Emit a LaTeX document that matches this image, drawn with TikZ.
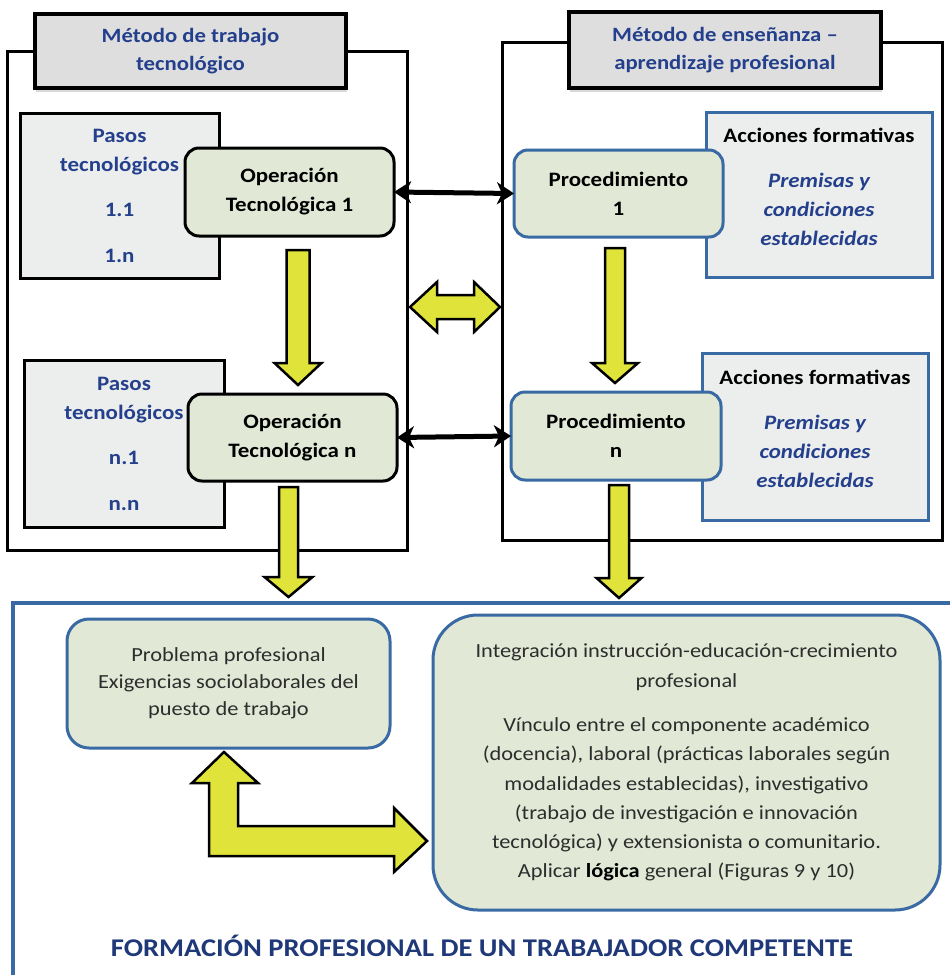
\documentclass[tikz,border=0pt]{standalone}
\usepackage{fontspec}
\setmainfont{Carlito}[FakeStretch=1.12]
\usetikzlibrary{arrows.meta,shadows,calc}
\definecolor{hblue}{RGB}{36,64,140}
\definecolor{tblue}{RGB}{31,56,120}
\definecolor{bblue}{RGB}{58,106,164}
\definecolor{gfill}{RGB}{225,233,214}
\definecolor{pfill}{RGB}{236,237,237}
\definecolor{hfill}{RGB}{222,222,222}
\definecolor{yel}{RGB}{224,228,58}
\definecolor{tgray}{RGB}{45,45,45}
\newcommand\fatdown[5]{%
  \draw[fat] let \p1=#1, \p2=#2 in
    (\x1-#3pt,\y1) -- (\x1-#3pt,\y2+#5pt) -- (\x1-#4pt,\y2+#5pt) -- (\x2,\y2)
    -- (\x1+#4pt,\y2+#5pt) -- (\x1+#3pt,\y2+#5pt) -- (\x1+#3pt,\y1) -- cycle;}
\begin{document}
\begin{tikzpicture}[x=1pt,y=-1pt,
  every node/.style={inner sep=0pt, outer sep=0pt},
  frame/.style={draw=black, line width=3pt, minimum width=#1},
  header/.style={draw=black, line width=4pt, fill=hfill,
    drop shadow={shadow xshift=1pt, shadow yshift=-4pt, opacity=0.3},
    font=\fontsize{20.3}{28}\selectfont\bfseries, text=hblue, align=center},
  pasos/.style={draw=black, line width=3pt, fill=pfill,
    font=\fontsize{20.5}{29}\selectfont\bfseries, text=hblue, align=center},
  opbox/.style={draw=black, line width=3pt, fill=gfill, rounded corners=14pt,
    font=\fontsize{20.5}{29}\selectfont\bfseries, text=black, align=center},
  procbox/.style={opbox, draw=bblue},
  accbox/.style={draw=bblue, line width=3pt, fill=pfill},
  acctext/.style={font=\fontsize{20.5}{29}\selectfont\bfseries, align=center},
  softbox/.style={draw=bblue, line width=3pt, fill=gfill, text=tgray, align=center},
  fat/.style={draw=black, line width=2.5pt, fill=yel, line join=miter},
  blk/.style={line width=5pt, {Stealth[length=17pt,width=22pt,inset=5pt]}-{Stealth[length=17pt,width=22pt,inset=5pt]}}
]
\useasboundingbox (0,0) rectangle (950,975);
\clip (0,0) rectangle (950,975);

% frames
\node[frame=400pt, minimum height=499pt] (lframe) at (207,300.5) {};
\node[frame=440pt, minimum height=498pt] (rframe) at (722,291) {};

% headers
\node[header, minimum width=311pt, minimum height=74pt] (lhead) at (190.5,51)
  {Método de trabajo\\tecnológico};
\node[header, minimum width=312pt, minimum height=76pt] (rhead) at (725,50)
  {Método de enseñanza –\\aprendizaje profesional};

% left column
\node[pasos, minimum width=199pt, minimum height=165pt] (pasos1) at (119.5,195.5)
  {Pasos\\tecnológicos\\[16pt]1.1\\[17pt]1.n};
\node[opbox, minimum width=209pt, minimum height=88pt] (op1) at (289.5,192)
  {Operación\\Tecnológica 1};
\node[pasos, minimum width=200pt, minimum height=167pt] (pasos2) at (124,443.5)
  {Pasos\\tecnológicos\\[16pt]n.1\\[17pt]n.n};
\node[opbox, minimum width=209pt, minimum height=87pt] (opn) at (292.5,437.5)
  {Operación\\Tecnológica n};

% right column
\node[accbox, minimum width=226pt, minimum height=165pt] (acc1) at (819,194.5) {};
\node[acctext] (acc1t) at ($(acc1.center)+(0,-8)$)
  {Acciones formativas\\[16pt]\color{hblue}\itshape Premisas y\\\color{hblue}\itshape condiciones\\\color{hblue}\itshape establecidas};
\node[procbox, minimum width=209pt, minimum height=87pt] (proc1) at (618.5,193.5)
  {Procedimiento\\1};
\node[accbox, minimum width=226pt, minimum height=167pt] (acc2) at (815,436.5) {};
\node[acctext] (acc2t) at ($(acc2.center)+(0,-7.5)$)
  {Acciones formativas\\[16pt]\color{hblue}\itshape Premisas y\\\color{hblue}\itshape condiciones\\\color{hblue}\itshape establecidas};
\node[procbox, minimum width=210pt, minimum height=88pt] (procn) at (616,436)
  {Procedimiento\\n};

% black double arrows
\draw[blk] (op1.east) -- (proc1.west);
\draw[blk] (opn.east) -- (procn.west);

% yellow double arrow between frames
\coordinate (dl) at ($(lframe.east)+(3,6.5)$);
\coordinate (dr) at ($(rframe.west)+(-2,16)$);
\draw[fat] let \p1=(dl), \p2=(dr) in
  (\x1,\y1) -- (\x1+27pt,\y1+25pt) -- (\x1+27pt,\y1+12pt) -- (\x2-26pt,\y2+12pt)
  -- (\x2-26pt,\y2+25pt) -- (\x2,\y2) -- (\x2-26pt,\y2-25pt) -- (\x2-26pt,\y2-12pt)
  -- (\x1+27pt,\y1-12pt) -- (\x1+27pt,\y1-25pt) -- cycle;

% bottom frame
\coordinate (bf1) at (13,603);
\coordinate (bf2) at (990,1000);
\draw[draw=bblue, line width=4pt] (bf1) rectangle (bf2);

% yellow down arrows
\coordinate (a1s) at ($(op1.south)+(8.5,14)$);
\coordinate (a1e) at ($(opn.north)+(5.5,-9)$);
\fatdown{(a1s)}{(a1e)}{11.5}{23.5}{22}
\coordinate (a2s) at ($(opn.south)+(-4,6)$);
\coordinate (a2e) at ($(opn.south)+(-4,116)$);
\fatdown{(a2s)}{(a2e)}{9.5}{24}{20}
\coordinate (a3s) at ($(proc1.south)+(-3.5,11)$);
\coordinate (a3e) at ($(procn.north)+(-1,-9)$);
\fatdown{(a3s)}{(a3e)}{10}{23}{20}
\coordinate (a4s) at ($(procn.south)+(3,5)$);
\coordinate (a4e) at ($(procn.south)+(3,118)$);
\fatdown{(a4s)}{(a4e)}{10}{22.5}{20}

% bottom boxes
\node[softbox, rounded corners=22pt, minimum width=323pt, minimum height=129pt,
  font=\fontsize{20}{27}\selectfont] (prob) at (228.5,683.5)
  {Problema profesional\\Exigencias sociolaborales del\\puesto de trabajo};
\node[softbox, rounded corners=45pt, minimum width=507pt, minimum height=295pt,
  font=\fontsize{20}{29.2}\selectfont] (integ) at (686.5,762.5)
  {Integración instrucción-educación-crecimiento\\[0.8pt]profesional\\[14.8pt]
   Vínculo entre el componente académico\\
   (docencia), laboral (prácticas laborales según\\
   modalidades establecidas), investigativo\\
   (trabajo de investigación e innovación\\
   tecnológica) y extensionista o comunitario.\\
   Aplicar {\bfseries\color{black}lógica} general (Figuras 9 y 10)};

% L-shaped yellow arrow
\coordinate (lt1) at ($(prob.south)+(-4.5,4)$);
\coordinate (lt2) at ($(integ.south west)+(-6,-69)$);
\draw[fat] let \p1=(lt1), \p2=(lt2) in
  (\x1,\y1) -- (\x1+34pt,\y1-31pt) -- (\x1+14pt,\y1-31pt) -- (\x1+14pt,\y2+15pt)
  -- (\x2-33pt,\y2+15pt) -- (\x2-33pt,\y2+33pt) -- (\x2,\y2) -- (\x2-33pt,\y2-31pt)
  -- (\x2-33pt,\y2-15pt) -- (\x1-15pt,\y2-15pt) -- (\x1-15pt,\y1-31pt)
  -- (\x1-32pt,\y1-31pt) -- cycle;

% title
\node[font=\fontsize{25.5}{30}\selectfont\bfseries, text=tblue] (title) at (482,946)
  {FORMACIÓN PROFESIONAL DE UN TRABAJADOR COMPETENTE};
\end{tikzpicture}
\end{document}
